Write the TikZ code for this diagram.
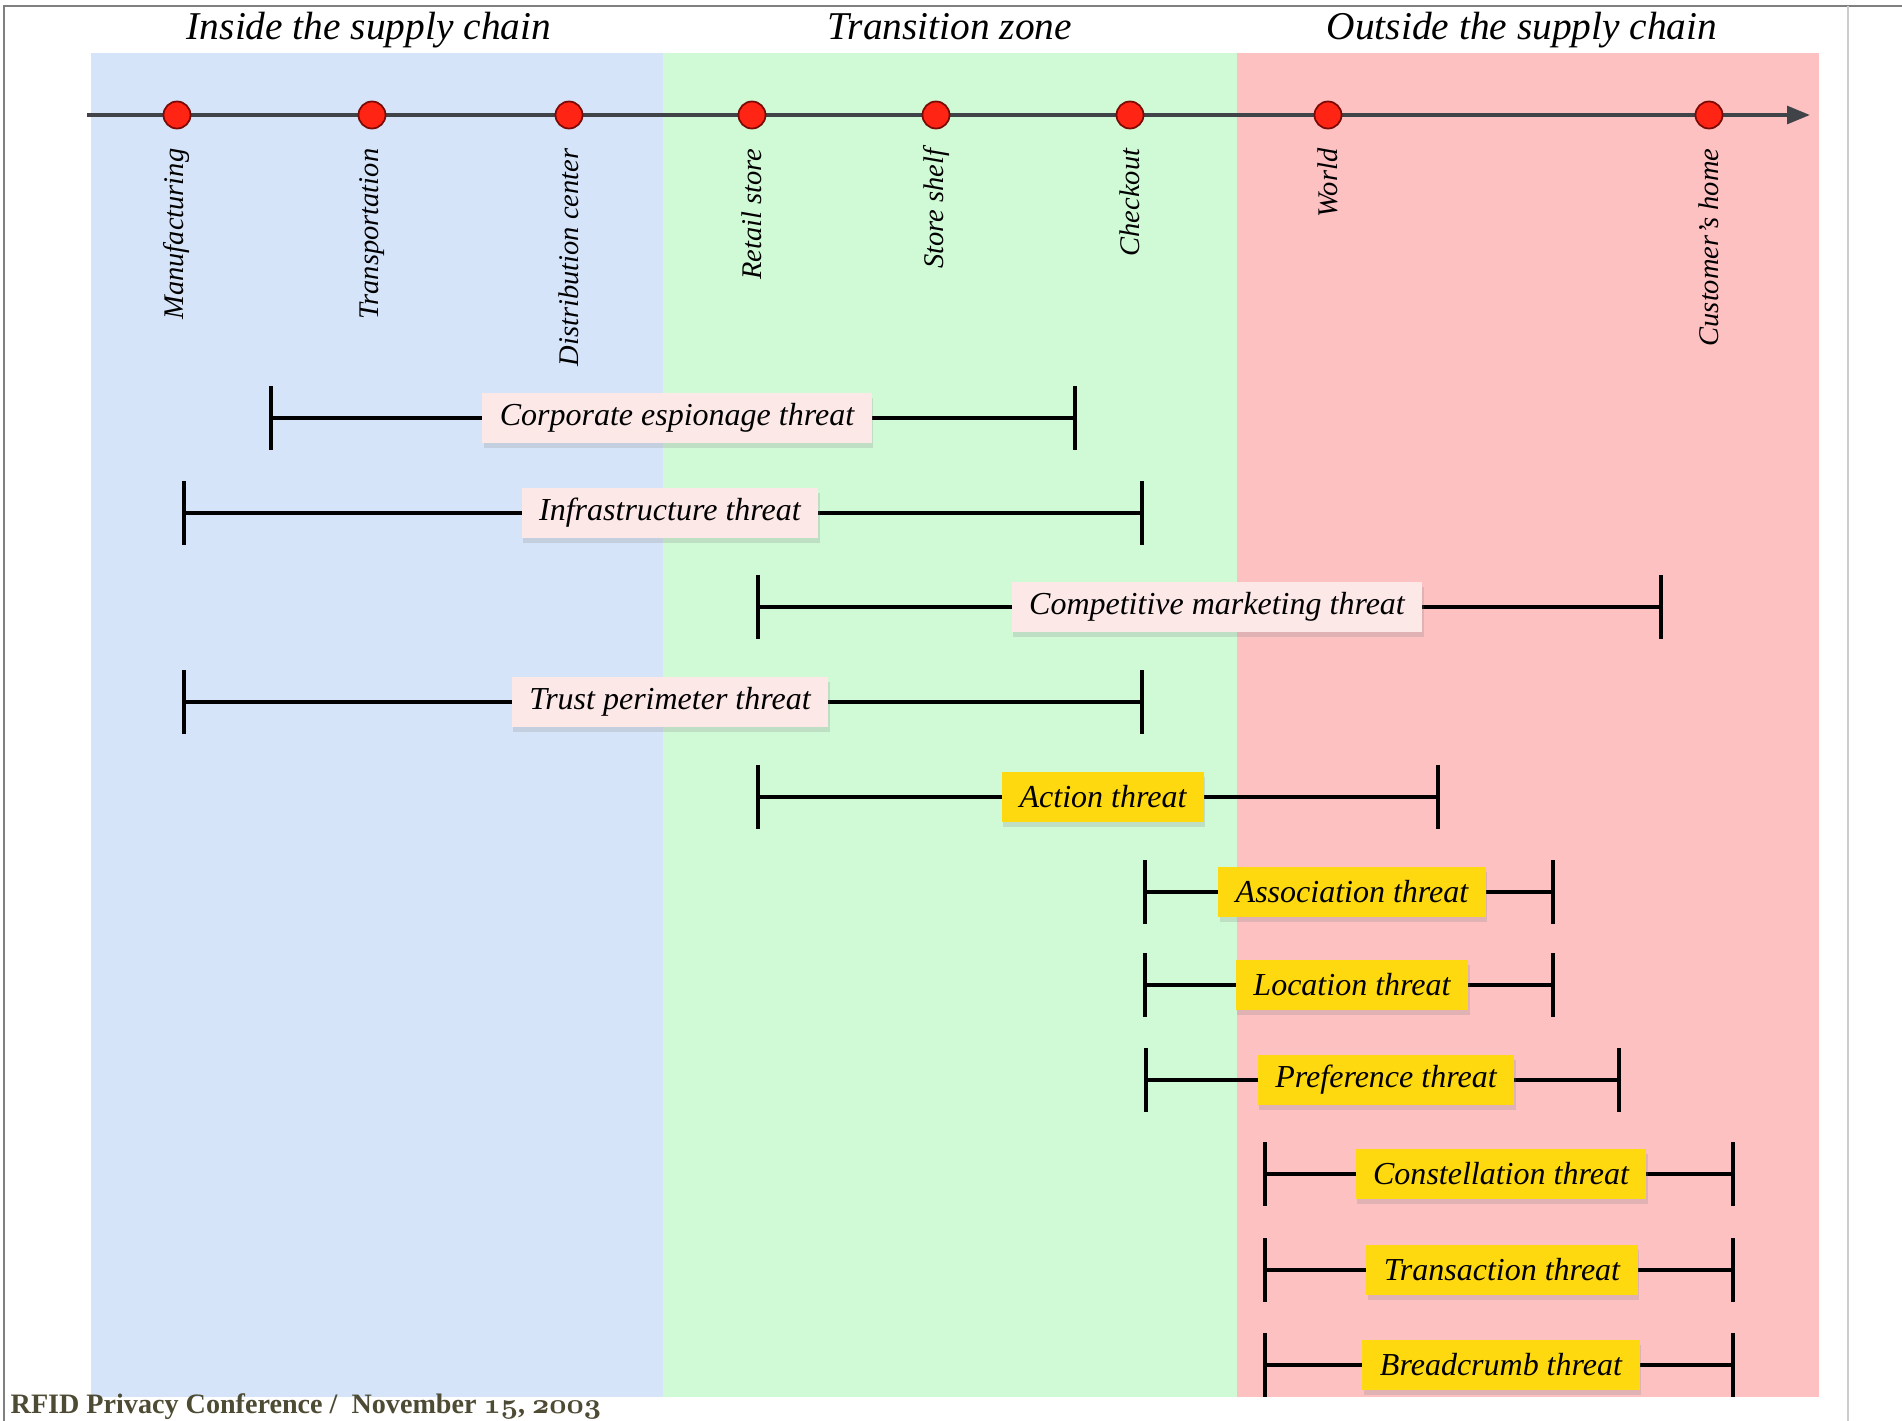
\documentclass[tikz,border=0pt]{standalone}
\usepackage{fontspec}
\setmainfont{Liberation Serif}
\usetikzlibrary{arrows.meta,positioning,shadows}
\definecolor{zoneblue}{HTML}{D6E4FA}
\definecolor{zonegreen}{HTML}{D0FAD6}
\definecolor{zonered}{HTML}{FDC1C2}
\definecolor{boxpink}{HTML}{FDE8E8}
\definecolor{boxgold}{HTML}{FFD910}
\definecolor{dotred}{HTML}{FF2414}
\definecolor{dotrim}{HTML}{7A0A05}
\definecolor{axisgray}{HTML}{404448}
\definecolor{foot}{HTML}{4E4B34}
\definecolor{framegray}{HTML}{808080}
\newcommand\oldnum[1]{{\usefont{OML}{cmm}{b}{it}#1}}

\begin{document}
\begin{tikzpicture}[
  x=0.01cm, y=-0.01cm,
  zone/.style={font=\fontsize{11.2}{13}\selectfont\itshape, anchor=base, inner sep=0pt},
  stop/.style={circle, draw=dotrim, fill=dotred, line width=0.5pt, minimum size=0.27cm, inner sep=0pt},
  place/.style={rotate=90, anchor=east, font=\fontsize{8.1}{9}\selectfont\itshape, inner sep=0pt},
  span/.style={line width=1.1pt, {Bar[width=18pt]}-{Bar[width=18pt]}},
  tag/.style={inner xsep=5pt, inner ysep=0pt, minimum height=0.5cm, font=\fontsize{9.1}{10}\selectfont\itshape,
    drop shadow={opacity=0.22, shadow xshift=0.4pt, shadow yshift=-1.5pt}},
  soft/.style={tag, fill=boxpink},
  hard/.style={tag, fill=boxgold},
]
\useasboundingbox (0,0) rectangle (1902,1421);
% frame
\draw[framegray, line width=0.8pt] (4,1421) -- (4,6) -- (1902,6);
\draw[black!20, line width=0.5pt] (1848,6) -- (1848,1421);
% the three zones
\fill[zoneblue] (91,53) rectangle (663,1397);
\fill[zonegreen] (663,53) rectangle (1237,1397);
\fill[zonered] (1237,53) rectangle (1819,1397);
\node[zone] (z-in) at (369,39) {Inside the supply chain};
\node[zone] (z-tr) at (950,39) {Transition zone};
\node[zone] (z-out) at (1522,39) {Outside the supply chain};
% timeline
\coordinate (ax-a) at (87,115);
\coordinate (ax-b) at (1810,115);
\draw[axisgray, line width=1.1pt, -{Triangle[length=6.5pt,width=5pt]}] (ax-a) -- (ax-b);
\foreach \x/\n/\t in {177/manu/Manufacturing, 372/trans/Transportation, 569/dist/Distribution center,
  752/retail/Retail store, 936/shelf/Store shelf, 1130/check/Checkout, 1328/world/World, 1709/home/Customer's home}{
  \node[stop] (s-\n) at (\x,115) {};
  \node[place] (l-\n) at (\x,148) {\t};
}
% threats inside the chain
\coordinate (ce-a) at (269,418); \coordinate (ce-b) at (1077,418);
\draw[span] (ce-a) -- (ce-b);
\node[soft] (ce) at (677,418) {Corporate espionage threat};
\coordinate (in-a) at (182,513); \coordinate (in-b) at (1144,513);
\draw[span] (in-a) -- (in-b);
\node[soft] (in) at (670,513) {Infrastructure threat};
\coordinate (cm-a) at (756,607); \coordinate (cm-b) at (1663,607);
\draw[span] (cm-a) -- (cm-b);
\node[soft] (cm) at (1217,607) {Competitive marketing threat};
\coordinate (tp-a) at (182,702); \coordinate (tp-b) at (1144,702);
\draw[span] (tp-a) -- (tp-b);
\node[soft] (tp) at (670,702) {Trust perimeter threat};
% threats to the customer
\coordinate (ac-a) at (756,797); \coordinate (ac-b) at (1440,797);
\draw[span] (ac-a) -- (ac-b);
\node[hard] (ac) at (1103,797) {Action threat};
\coordinate (as-a) at (1143,892); \coordinate (as-b) at (1555,892);
\draw[span] (as-a) -- (as-b);
\node[hard] (as) at (1352,892) {Association threat};
\coordinate (lo-a) at (1143,985); \coordinate (lo-b) at (1555,985);
\draw[span] (lo-a) -- (lo-b);
\node[hard] (lo) at (1352,985) {Location threat};
\coordinate (pr-a) at (1144,1080); \coordinate (pr-b) at (1621,1080);
\draw[span] (pr-a) -- (pr-b);
\node[hard] (pr) at (1386,1080) {Preference threat};
\coordinate (co-a) at (1263,1174); \coordinate (co-b) at (1735,1174);
\draw[span] (co-a) -- (co-b);
\node[hard] (co) at (1501,1174) {Constellation threat};
\coordinate (tr-a) at (1263,1270); \coordinate (tr-b) at (1735,1270);
\draw[span] (tr-a) -- (tr-b);
\node[hard] (tr) at (1502,1270) {Transaction threat};
\coordinate (bc-a) at (1263,1365); \coordinate (bc-b) at (1735,1365);
\draw[span] (bc-a) -- (bc-b);
\node[hard] (bc) at (1501,1365) {Breadcrumb threat};
% footer
\node[anchor=base west, inner sep=0pt, text=foot, font=\fontsize{8}{9}\selectfont\bfseries] (foot) at (10,1413)
  {RFID Privacy Conference /\enspace November \oldnum{15}, \oldnum{2003}};
\end{tikzpicture}
\end{document}
